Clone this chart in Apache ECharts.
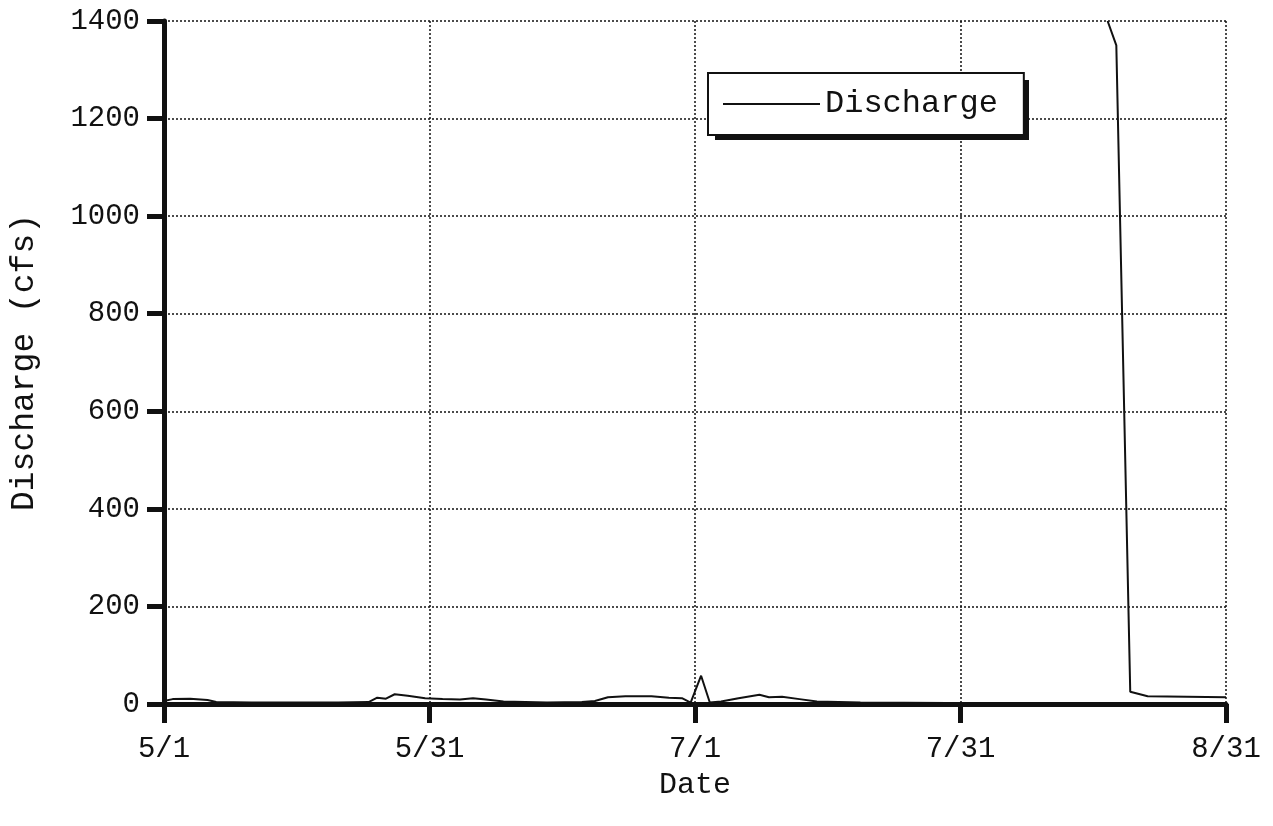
<!DOCTYPE html>
<html>
<head>
<meta charset="utf-8">
<script src="https://cdn.jsdelivr.net/npm/echarts@6/dist/echarts.min.js"></script>
<style>
  html, body { margin: 0; padding: 0; background: #fff; }
  #chart { width: 1273px; height: 826px; }
</style>
</head>
<body>
<div id="chart"></div>
<script>
"use strict";

// days counted from 5/1, discharge in cfs (null = no reading)
var dayOffsets = [0, 1, 3, 5, 6, 10, 15, 20, 23.5, 24.5, 25.5, 26.5, 28, 30, 32, 34, 35.5, 37, 39, 44,
	48, 49.5, 51, 53, 56, 58, 59.5, 60.5, 61.7, 62.7, 64, 66, 68.4, 69.5, 71, 73, 75, 80, 90, 100,
	107.5, 108, 108.4, 109.4, 111, 113, 122];
var discharge = [6, 10, 11, 8, 4, 3, 3, 3, 4, 13, 11, 20, 17, 12, 10, 9, 12, 9, 5, 3,
	4, 6, 14, 16, 16, 13, 12, 3, 58, 3, 5, 12, 19, 14, 15, 10, 5, 3, 2, 2,
	2, null, 1400, 1350, 25, 16, 14];

var tickDays = [0, 30.5, 61, 91.5, 122];
var tickLabels = ['5/1', '5/31', '7/1', '7/31', '8/31'];
var yTicks = [0, 200, 400, 600, 800, 1000, 1200, 1400];

var fontFamily = '"Liberation Mono", "DejaVu Sans Mono", monospace';
var ink = '#111';

var seriesData = [];
for (var i = 0; i < dayOffsets.length; i++) {
	seriesData.push([dayOffsets[i], discharge[i] === null ? '-' : discharge[i]]);
}

function dayLabel(v) {
	for (var k = 0; k < tickDays.length; k++) {
		if (Math.abs(tickDays[k] - v) < 0.01) return tickLabels[k];
	}
	return '';
}

var myChart = echarts.init(document.getElementById('chart'));

myChart.setOption({
	backgroundColor: '#fff',
	animation: false,
	grid: { left: 160, right: 47, top: 21, bottom: 122 },
	// drop shadow behind the legend box
	graphic: [{
		type: 'rect',
		left: 715,
		top: 80,
		shape: { width: 314, height: 60 },
		style: { fill: ink },
		z: 5
	}],
	legend: {
		left: 708,
		top: 73,
		padding: [15, 26, 15, 15],
		itemWidth: 97,
		itemHeight: 2,
		icon: 'rect',
		backgroundColor: '#fff',
		borderColor: ink,
		borderWidth: 2,
		z: 10,
		textStyle: { fontFamily: fontFamily, fontSize: 32, color: ink },
		data: ['Discharge']
	},
	xAxis: {
		type: 'value',
		min: 0,
		max: 122,
		interval: 30.5,
		name: 'Date',
		nameLocation: 'middle',
		nameGap: 66,
		nameTextStyle: { fontFamily: fontFamily, fontSize: 30, color: ink },
		axisLine: { show: true, lineStyle: { color: ink, width: 5 } },
		axisTick: { show: true, length: 19, lineStyle: { color: ink, width: 5 } },
		axisLabel: {
			fontFamily: fontFamily, fontSize: 29, color: ink, margin: 31,
			formatter: dayLabel
		},
		splitLine: { show: true, lineStyle: { color: ink, width: 1.5, type: [2, 2] } }
	},
	yAxis: {
		type: 'value',
		min: 0,
		max: 1400,
		interval: 200,
		name: 'Discharge (cfs)',
		nameLocation: 'middle',
		nameGap: 123,
		nameTextStyle: { fontFamily: fontFamily, fontSize: 33, color: ink },
		axisLine: { show: true, lineStyle: { color: ink, width: 5 } },
		axisTick: { show: true, length: 17, lineStyle: { color: ink, width: 5 } },
		axisLabel: {
			fontFamily: fontFamily, fontSize: 29, color: ink, margin: 24,
			formatter: function(v) { return yTicks.indexOf(v) >= 0 ? String(v) : ''; }
		},
		splitLine: { show: true, lineStyle: { color: ink, width: 1.5, type: [2, 2] } }
	},
	series: [{
		name: 'Discharge',
		type: 'line',
		data: seriesData,
		symbol: 'none',
		connectNulls: false,
		clip: true,
		lineStyle: { color: ink, width: 2 },
		itemStyle: { color: ink },
		z: 3
	}]
});
</script>
</body>
</html>
